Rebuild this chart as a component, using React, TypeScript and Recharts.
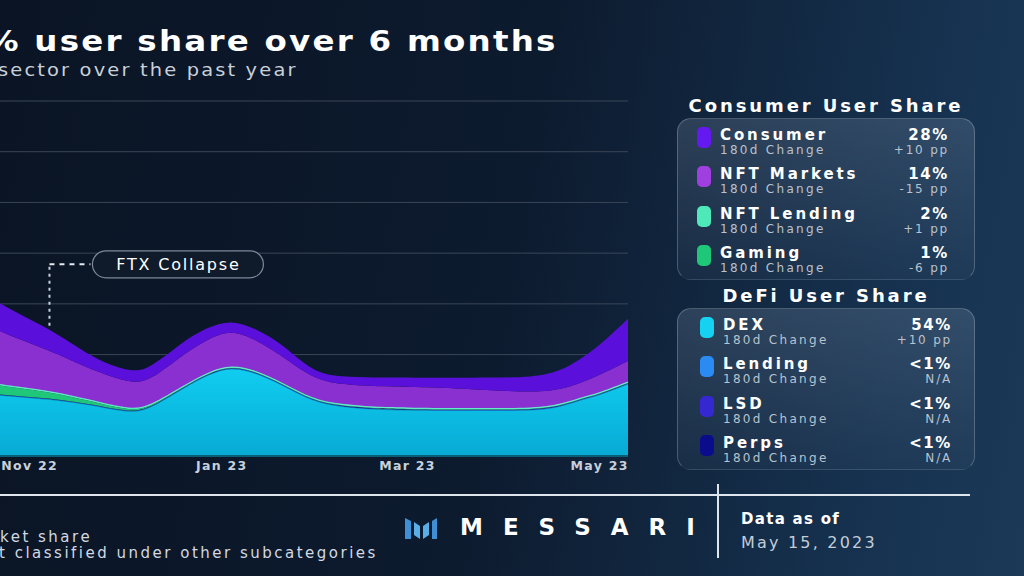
import React from "react";
import {
  Area,
  AreaChart,
  CartesianGrid,
  ReferenceDot,
  ReferenceLine,
  XAxis,
  YAxis,
} from "recharts";

// days since Oct 1 2022
const DAYS = [0, 10, 21, 29, 37, 45, 53, 63, 69, 80, 88, 95, 103, 111, 121, 130, 140, 152, 171, 192, 200, 205, 212, 221];
const DEX = [13.0, 12.6, 12.0, 11.6, 11.2, 10.6, 9.8, 8.5, 9.2, 13.5, 16.2, 17.6, 16.4, 14.1, 10.7, 9.7, 9.2, 9.0, 9.0, 8.9, 9.8, 10.9, 12.0, 14.2];
const LENDING = [0.05, 0.05, 0.05, 0.05, 0.05, 0.05, 0.05, 0.05, 0.05, 0.05, 0.05, 0.05, 0.05, 0.05, 0.05, 0.05, 0.05, 0.05, 0.05, 0.05, 0.05, 0.05, 0.05, 0.05];
const LSD = [0.05, 0.05, 0.05, 0.05, 0.05, 0.05, 0.05, 0.05, 0.05, 0.05, 0.05, 0.05, 0.05, 0.05, 0.05, 0.05, 0.05, 0.05, 0.05, 0.05, 0.05, 0.05, 0.05, 0.05];
const PERPS = [0.05, 0.05, 0.05, 0.05, 0.05, 0.05, 0.05, 0.05, 0.05, 0.05, 0.05, 0.05, 0.05, 0.05, 0.05, 0.05, 0.05, 0.05, 0.05, 0.05, 0.05, 0.05, 0.05, 0.05];
const GAMING = [2.6, 2.2, 1.8, 1.5, 1.2, 0.8, 0.45, 0.3, 0.15, 0.05, 0.05, 0.05, 0.05, 0.05, 0.05, 0.05, 0.05, 0.05, 0.05, 0.05, 0.05, 0.05, 0.05, 0.05];
const NFT_LENDING = [0.3, 0.3, 0.3, 0.3, 0.3, 0.3, 0.3, 0.3, 0.3, 0.3, 0.3, 0.3, 0.3, 0.3, 0.3, 0.3, 0.3, 0.3, 0.3, 0.3, 0.3, 0.3, 0.3, 0.3];
const NFT_MARKETS = [15.0, 12.8, 10.5, 9.2, 8.0, 6.8, 5.8, 5.1, 4.9, 6.2, 6.5, 6.85, 6.0, 5.2, 4.0, 3.9, 4.05, 4.15, 3.75, 3.05, 2.95, 2.75, 3.45, 4.05];
const CONSUMER = [7.0, 6.5, 5.5, 4.8, 4.3, 3.3, 2.3, 2.2, 2.4, 2.6, 2.3, 1.9, 2.2, 2.4, 1.2, 1.5, 1.7, 1.8, 2.2, 3.0, 3.7, 4.6, 5.8, 8.3];

const TICK_DAYS = [31, 92, 151, 212];
const TICK_LABELS = ["Nov 22", "Jan 23", "Mar 23", "May 23"];
const Y_TICKS = [0, 10, 20, 30, 40, 50, 60, 70];

const FTX_DAY = 37.3;
const FTX_LABEL_DAY = 50.3;
const FTX_TOP = 37.8;
const FTX_BOTTOM = 25.7;

const CONSUMER_ROWS = [
  { name: "Consumer", color: "#6419ee", share: "28%", change: "+10 pp" },
  { name: "NFT Markets", color: "#a03fe0", share: "14%", change: "-15 pp" },
  { name: "NFT Lending", color: "#4fe8b8", share: "2%", change: "+1 pp" },
  { name: "Gaming", color: "#1ec878", share: "1%", change: "-6 pp" },
];
const DEFI_ROWS = [
  { name: "DEX", color: "#16d2f2", share: "54%", change: "+10 pp" },
  { name: "Lending", color: "#2a8cf2", share: "<1%", change: "N/A" },
  { name: "LSD", color: "#3528d0", share: "<1%", change: "N/A" },
  { name: "Perps", color: "#0a0c8c", share: "<1%", change: "N/A" },
];

const data = DAYS.map((d, i) => ({
  day: d,
  dex: DEX[i],
  lending: LENDING[i],
  lsd: LSD[i],
  perps: PERPS[i],
  gaming: GAMING[i],
  nftLending: NFT_LENDING[i],
  nftMarkets: NFT_MARKETS[i],
  consumer: CONSUMER[i],
}));

const FONT = "'DejaVu Sans', Verdana, sans-serif";

function FtxPill(props: any) {
  const { cx, cy } = props;
  return (
    <g>
      <rect
        x={cx + 2}
        y={cy - 13.5}
        width={171}
        height={27}
        rx={13.5}
        fill="#0f1b2b"
        stroke="#7d8898"
        strokeWidth={1.2}
      />
      <text
        x={cx + 88}
        y={cy + 5.5}
        textAnchor="middle"
        fill="#ffffff"
        fontSize={16}
        fontFamily={FONT}
        letterSpacing={1.8}
      >
        FTX Collapse
      </text>
    </g>
  );
}

function SharePanel({
  title,
  rows,
  top,
  shift,
}: {
  title: string;
  rows: typeof CONSUMER_ROWS;
  top: number;
  shift: number;
}) {
  return (
    <>
      <div
        style={{
          position: "absolute",
          left: 677,
          width: 298,
          top: top - 23,
          textAlign: "center",
          color: "#fff",
          fontFamily: FONT,
          fontWeight: 700,
          fontSize: 18,
          letterSpacing: 2.9,
        }}
      >
        {title}
      </div>
      <div
        style={{
          position: "absolute",
          left: 677,
          top,
          width: 298,
          height: 162,
          borderRadius: 14,
          border: "1px solid rgba(255,255,255,0.22)",
          borderBottomColor: "rgba(255,255,255,0.04)",
          background: "linear-gradient(180deg, rgba(120,140,165,0.28), rgba(80,100,125,0.12))",
          boxSizing: "border-box",
        }}
      />
      {rows.map((r, i) => {
        const y = top + 8 + i * 39.3;
        return (
          <React.Fragment key={r.name}>
            <div
              style={{
                position: "absolute",
                left: 697 + shift,
                top: y + 1,
                width: 14,
                height: 21,
                borderRadius: 5,
                background: r.color,
              }}
            />
            <div
              style={{
                position: "absolute",
                left: 720 + shift,
                top: y + 1,
                color: "#fff",
                fontFamily: FONT,
                fontWeight: 700,
                fontSize: 15,
                letterSpacing: 2.9,
                lineHeight: "17px",
                whiteSpace: "nowrap",
              }}
            >
              {r.name}
            </div>
            <div
              style={{
                position: "absolute",
                left: 720 + shift,
                top: y + 17,
                color: "#b9c2ce",
                fontFamily: FONT,
                fontSize: 12,
                letterSpacing: 2.3,
                lineHeight: "14px",
                whiteSpace: "nowrap",
              }}
            >
              180d Change
            </div>
            <div
              style={{
                position: "absolute",
                right: 1024 - 949 - shift,
                top: y + 1,
                color: "#fff",
                fontFamily: FONT,
                fontWeight: 700,
                fontSize: 15,
                letterSpacing: 1.6,
                lineHeight: "17px",
                textAlign: "right",
              }}
            >
              {r.share}
            </div>
            <div
              style={{
                position: "absolute",
                right: 1024 - 949 - shift,
                top: y + 17,
                color: "#b9c2ce",
                fontFamily: FONT,
                fontSize: 12,
                letterSpacing: 1.8,
                lineHeight: "14px",
                textAlign: "right",
              }}
            >
              {r.change}
            </div>
          </React.Fragment>
        );
      })}
    </>
  );
}

export default function App() {
  return (
    <div
      style={{
        position: "fixed",
        left: 0,
        top: 0,
        width: 1024,
        height: 576,
        overflow: "hidden",
        background: "linear-gradient(100deg, #0a1424 0%, #0d1b2f 50%, #163250 85%, #1b3a58 100%)",
        fontFamily: FONT,
      }}
    >
      <div
        style={{
          position: "absolute",
          left: -14,
          top: 24,
          color: "#fff",
          fontWeight: 700,
          fontSize: 29,
          letterSpacing: 2,
          whiteSpace: "nowrap",
          transform: "scaleX(1.12)",
          transformOrigin: "left center",
        }}
      >
        % user share over 6 months
      </div>
      <div
        style={{
          position: "absolute",
          left: -2,
          top: 59,
          color: "#c9d0da",
          fontSize: 18,
          letterSpacing: 2,
          whiteSpace: "nowrap",
          transform: "scaleX(1.08)",
          transformOrigin: "left center",
        }}
      >
        sector over the past year
      </div>

      <div style={{ position: "absolute", left: -68, top: 91 }}>
        <AreaChart
          width={716}
          height={389}
          data={data}
          margin={{ top: 10, right: 20, bottom: 0, left: 0 }}
        >
          <defs>
            <linearGradient id="dexFill" x1="0" y1="0" x2="0" y2="1">
              <stop offset="0%" stopColor="#10cdf0" />
              <stop offset="100%" stopColor="#08aad4" />
            </linearGradient>
          </defs>
          <CartesianGrid vertical={false} stroke="#3a4657" strokeWidth={1} />
          <XAxis
            dataKey="day"
            type="number"
            domain={[0, 221]}
            ticks={TICK_DAYS}
            tickFormatter={(v) => TICK_LABELS[TICK_DAYS.indexOf(v)]}
            axisLine={{ stroke: "#0a5f78", strokeWidth: 2 }}
            tickLine={false}
            tickSize={0}
            tickMargin={5}
            height={24}
            tick={{ fill: "#c8d0db", fontSize: 12.5, fontWeight: 700, fontFamily: FONT, letterSpacing: 1.3 }}
          />
          <YAxis hide domain={[0, 70]} ticks={Y_TICKS} />
          <Area type="basis" dataKey="dex" stackId="1" stroke="#0b8eb0" strokeWidth={1} fill="url(#dexFill)" fillOpacity={1} isAnimationActive={false} />
          <Area type="basis" dataKey="lending" stackId="1" stroke="none" fill="#2a8cf2" fillOpacity={1} isAnimationActive={false} />
          <Area type="basis" dataKey="lsd" stackId="1" stroke="none" fill="#3528d0" fillOpacity={1} isAnimationActive={false} />
          <Area type="basis" dataKey="perps" stackId="1" stroke="none" fill="#0a0c8c" fillOpacity={1} isAnimationActive={false} />
          <Area type="basis" dataKey="gaming" stackId="1" stroke="none" fill="#1ec878" fillOpacity={1} isAnimationActive={false} />
          <Area type="basis" dataKey="nftLending" stackId="1" stroke="#72ead0" strokeWidth={1.5} fill="#4fe8b8" fillOpacity={1} isAnimationActive={false} />
          <Area type="basis" dataKey="nftMarkets" stackId="1" stroke="none" fill="#8a2fd0" fillOpacity={1} isAnimationActive={false} />
          <Area type="basis" dataKey="consumer" stackId="1" stroke="none" fill="#5a10da" fillOpacity={1} isAnimationActive={false} />
          <ReferenceLine
            segment={[
              { x: FTX_DAY, y: FTX_BOTTOM },
              { x: FTX_DAY, y: FTX_TOP },
            ]}
            stroke="#c9d0da"
            strokeWidth={2}
            strokeDasharray="3 4"
            ifOverflow="visible"
          />
          <ReferenceLine
            segment={[
              { x: FTX_DAY, y: FTX_TOP },
              { x: FTX_LABEL_DAY, y: FTX_TOP },
            ]}
            stroke="#e6eaf0"
            strokeWidth={2}
            strokeDasharray="5 5"
            ifOverflow="visible"
          />
          <ReferenceDot x={FTX_LABEL_DAY} y={FTX_TOP} r={1} ifOverflow="visible" shape={FtxPill} />
        </AreaChart>
      </div>

      <SharePanel title="Consumer User Share" rows={CONSUMER_ROWS} top={118} shift={0} />
      <SharePanel title="DeFi User Share" rows={DEFI_ROWS} top={308} shift={3} />

      {/* footer */}
      <div style={{ position: "absolute", left: 0, top: 494, width: 970, height: 2, background: "#dfe5ec" }} />
      <div style={{ position: "absolute", left: 717, top: 484, width: 2, height: 74, background: "#dfe5ec" }} />
      <div style={{ position: "absolute", left: 0, top: 530, color: "#d3d9e1", fontSize: 15, lineHeight: "15px", letterSpacing: 2.5, whiteSpace: "nowrap" }}>
        ket share
      </div>
      <div style={{ position: "absolute", left: -1, top: 546, color: "#d3d9e1", fontSize: 15, lineHeight: "15px", letterSpacing: 2.5, whiteSpace: "nowrap" }}>
        t classified under other subcategories
      </div>
      <svg style={{ position: "absolute", left: 405, top: 518 }} width={32} height={22}>
        <polygon points="0,0 6,3 6,21 0,21" fill="#3f8fd6" />
        <polygon points="9,4 15,8 15,21 9,17" fill="#5aaee8" />
        <polygon points="18,8 24,4 24,17 18,21" fill="#5aaee8" />
        <polygon points="27,3 32,0 32,21 27,21" fill="#3f8fd6" />
      </svg>
      <div
        style={{
          position: "absolute",
          left: 460,
          top: 514,
          color: "#fff",
          fontWeight: 700,
          fontSize: 23,
          letterSpacing: 20,
          whiteSpace: "nowrap",
        }}
      >
        MESSARI
      </div>
      <div style={{ position: "absolute", left: 741, top: 510, color: "#fff", fontWeight: 700, fontSize: 15, letterSpacing: 1.3, whiteSpace: "nowrap" }}>
        Data as of
      </div>
      <div style={{ position: "absolute", left: 741, top: 533, color: "#c4ccd7", fontSize: 16, letterSpacing: 2.2, whiteSpace: "nowrap" }}>
        May 15, 2023
      </div>
    </div>
  );
}
